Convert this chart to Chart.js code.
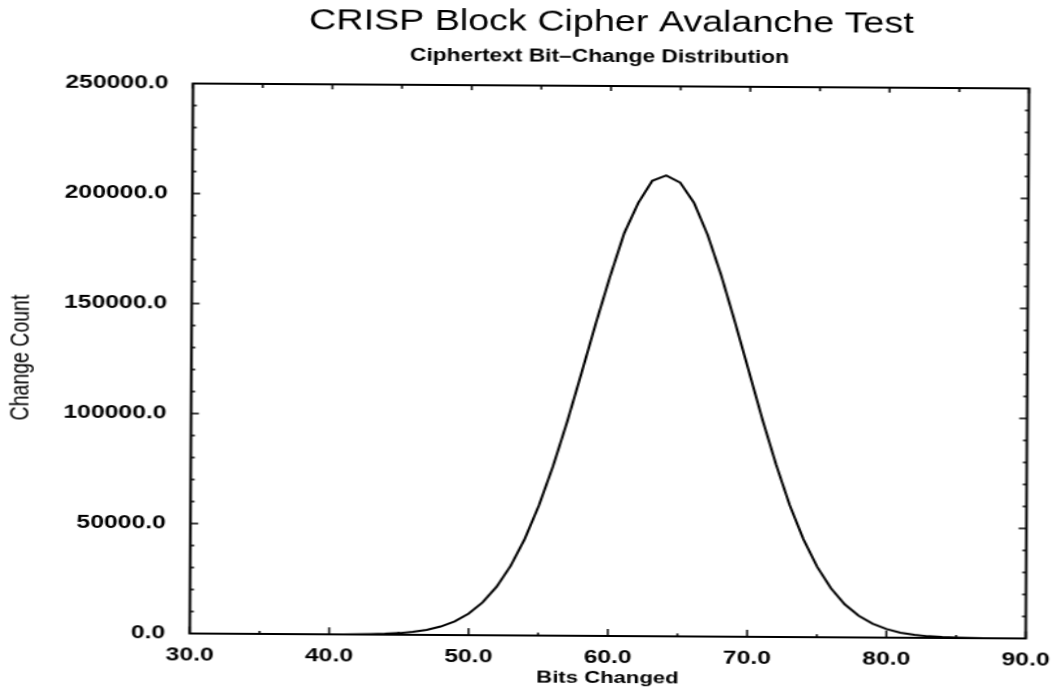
<!DOCTYPE html>
<html>
<head>
<meta charset="utf-8">
<script src="https://cdn.jsdelivr.net/npm/chart.js@4/dist/chart.umd.min.js"></script>
<style>
  html, body { margin: 0; padding: 0; background: #fff; overflow: hidden; }
  /* the scanned original is stretched sideways and a little tilted */
  #page { width: 1054px; height: 694px; transform: rotate(0.34deg); transform-origin: 611px 361px; }
  #myChart { transform: scaleX(1.2996); transform-origin: 0 0; }
</style>
</head>
<body>
<div id="page"><canvas id="myChart" width="811" height="694"></canvas></div>
<script>
var titleText = 'CRISP Block Cipher Avalanche Test';
var subtitleText = 'Ciphertext Bit\u2013Change Distribution';
var xTitle = 'Bits Changed';
var yTitle = 'Change Count';

// bits changed per block vs. how often it happened
var bitsChanged = [30, 31, 32, 33, 34, 35, 36, 37, 38, 39,
  40, 41, 42, 43, 44, 45, 46, 47, 48, 49,
  50, 51, 52, 53, 54, 55, 56, 57, 58, 59,
  60, 61, 62, 63, 64, 65, 66, 67, 68, 69,
  70, 71, 72, 73, 74, 75, 76, 77, 78, 79,
  80, 81, 82, 83, 84, 85, 86, 87, 88, 89, 90];
var changeCount = [0, 0, 0, 0, 0, 0, 0, 0, 5, 10,
  25, 50, 110, 210, 400, 740, 1330, 2290, 3840, 6230,
  9800, 14940, 22080, 31630, 43910, 59120, 77070, 97420, 119400, 141800,
  163200, 183000, 196900, 207000, 209500, 206300, 197200, 182500, 164000, 143000,
  121000, 99000, 78500, 60000, 44500, 32000, 22300, 15000, 9900, 6300,
  3900, 2300, 1330, 740, 400, 210, 110, 50, 25, 10, 5];

var xMin = 30, xMax = 90, xStep = 10, xMinorStep = 5;
var yMin = 0, yMax = 250000, yStep = 50000, yMinorStep = 10000;

var points = [];
for (var i = 0; i < bitsChanged.length; i++) {
  points.push({ x: bitsChanged[i], y: changeCount[i] });
}

var FONT = 'Liberation Sans, Arial, Helvetica, sans-serif';

// box round the plot, ticks pointing inwards on all four sides
var framePlugin = {
  id: 'frame',
  afterDatasetsDraw: function (chart) {
    var ctx = chart.ctx;
    var a = chart.chartArea;
    var xs = chart.scales.x, ys = chart.scales.y;
    ctx.save();
    ctx.strokeStyle = '#000';
    ctx.lineWidth = 1.5;
    var v, px, len;
    for (v = xMin; v <= xMax; v += xMinorStep) {
      px = xs.getPixelForValue(v);
      len = (v % xStep === 0) ? 7 : 3;
      ctx.beginPath();
      ctx.moveTo(px, a.bottom); ctx.lineTo(px, a.bottom - len);
      ctx.moveTo(px, a.top); ctx.lineTo(px, a.top + ((v % xStep === 0) ? 5 : 4));
      ctx.stroke();
    }
    for (v = yMin; v <= yMax; v += yMinorStep) {
      px = ys.getPixelForValue(v);
      len = (v % yStep === 0) ? 6 : 3;
      ctx.beginPath();
      ctx.moveTo(a.left, px); ctx.lineTo(a.left + len, px);
      ctx.moveTo(a.right, px); ctx.lineTo(a.right - len, px);
      ctx.stroke();
    }
    ctx.lineWidth = 2;
    ctx.strokeRect(a.left, a.top, a.right - a.left, a.bottom - a.top);
    ctx.restore();
  }
};

var textPlugin = {
  id: 'texts',
  afterDraw: function (chart) {
    var ctx = chart.ctx;
    var a = chart.chartArea;
    var cx = (a.left + a.right) / 2;
    ctx.save();
    ctx.fillStyle = '#000';
    ctx.textAlign = 'center';
    ctx.textBaseline = 'middle';
    ctx.font = '29px ' + FONT;
    ctx.fillText(titleText, cx, 23);
    ctx.font = 'bold 17.5px ' + FONT;
    ctx.fillText(subtitleText, cx - 9, 57);
    ctx.translate(16.5, (a.top + a.bottom) / 2);
    ctx.rotate(-Math.PI / 2);
    ctx.font = '19.5px ' + FONT;
    ctx.fillText(yTitle, 0, 0);
    ctx.restore();
  }
};

var ctx = document.getElementById('myChart').getContext('2d');
var myChart = new Chart(ctx, {
  type: 'line',
  data: {
    datasets: [{
      label: yTitle,
      data: points,
      borderColor: '#000',
      borderWidth: 2,
      pointRadius: 0,
      tension: 0,
      fill: false
    }]
  },
  options: {
    responsive: false,
    animation: false,
    devicePixelRatio: 1,
    layout: { padding: { left: 0, right: 18.4, top: 86, bottom: 0 } },
    plugins: {
      legend: { display: false },
      tooltip: { enabled: false }
    },
    scales: {
      x: {
        type: 'linear',
        min: xMin,
        max: xMax,
        grid: { display: false },
        border: { display: false },
        ticks: {
          stepSize: xStep,
          maxRotation: 0,
          autoSkip: false,
          padding: 2,
          color: '#000',
          font: { family: FONT, size: 19, weight: 'bold' },
          callback: function (value) { return value.toFixed(1); }
        },
        title: {
          display: true,
          text: xTitle,
          color: '#000',
          font: { family: FONT, size: 17, weight: 'bold' },
          padding: { top: 0, bottom: 5 }
        },
        afterFit: function (scale) { scale.height = 58; }
      },
      y: {
        min: yMin,
        max: yMax,
        grid: { display: false },
        border: { display: false },
        ticks: {
          stepSize: yStep,
          padding: 11,
          color: '#000',
          font: { family: FONT, size: 19, weight: 'bold' },
          callback: function (value) { return value.toFixed(1); }
        },
        afterFit: function (scale) { scale.width = 147.3; }
      }
    }
  },
  plugins: [framePlugin, textPlugin]
});
</script>
</body>
</html>
